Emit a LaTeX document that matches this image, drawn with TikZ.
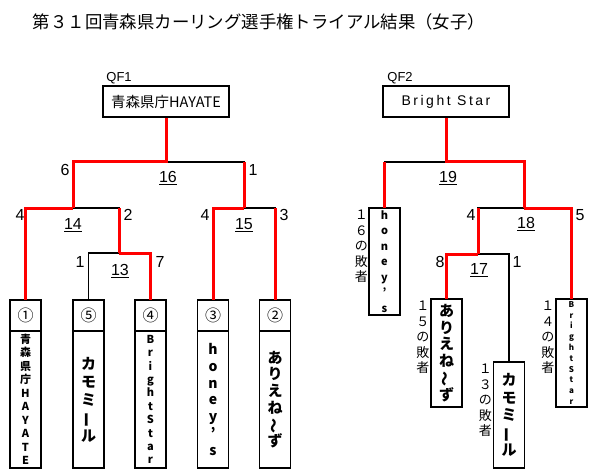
\documentclass[tikz,border=0pt]{standalone}
\usepackage{fontspec}
\setmainfont{Liberation Sans}
\newfontfamily\jp{Noto Sans CJK JP}
\usetikzlibrary{positioning}
\newcommand{\chouon}{\rotatebox[origin=c]{90}{ー}}
\newcommand{\namisen}{\rotatebox[origin=c]{90}{〜}}
\tikzset{win/.style={draw=red, line width=3pt},
         lose/.style={draw=black, line width=1.2pt},
         teambox/.style={draw, line width=1.6pt, minimum width=31pt, inner sep=0pt, outer sep=0pt, align=center},
         numcell/.style={teambox, minimum height=31pt, font=\jp\fontsize{16}{16}\selectfont},
         qfbox/.style={draw, line width=1.6pt, minimum width=126pt, minimum height=31pt, inner sep=0pt},
         score/.style={inner sep=0pt, font=\fontsize{16}{16}\selectfont},
         loser/.style={inner sep=0pt, align=center, font=\jp\fontsize{13}{15.5}\selectfont}}

\begin{document}
\begin{tikzpicture}[x=1pt, y=-1pt]
                    \useasboundingbox (0,0) rectangle (600,476);
                    \fill[white] (0,0) rectangle (600,476);

                    \node[inner sep=0pt, font=\jp\fontsize{17.4}{17.4}\selectfont] (title) at (259,22) {第３１回青森県カーリング選手権トライアル結果（女子）};

                    % QF1
                    \node[qfbox, font=\jp\fontsize{14.5}{14.5}\selectfont] (qf1) at (166,101.5) {青森県庁HAYATE};
                    \node[inner sep=0pt, font=\fontsize{13}{13}\selectfont, above right=1pt and 4pt of qf1.north west] (qf1name) {QF1};

                    \node[numcell] (n1) at (25.5,315.5) {①};
                    \node[numcell] (n5) at (88.5,315.5) {⑤};
                    \node[numcell] (n4) at (150.5,315.5) {④};
                    \node[numcell] (n3) at (213,315.5) {③};
                    \node[numcell] (n2) at (275,315.5) {②};

                    \node[teambox, minimum height=137pt, anchor=north, font=\jp\bfseries\fontsize{11}{13.5}\selectfont] (t1) at (n1.south) {青\\森\\県\\庁\\H\\A\\Y\\A\\T\\E};
                    \node[teambox, minimum height=137pt, anchor=north, font=\jp\bfseries\fontsize{15}{18}\selectfont] (t5) at (n5.south) {カ\\モ\\ミ\\\chouon\\ル};
                    \node[teambox, minimum height=137pt, anchor=north, font=\jp\bfseries\fontsize{11}{13.4}\selectfont] (t4) at (n4.south) {B\\r\\i\\g\\h\\t\\S\\t\\a\\r};
                    \node[teambox, minimum height=137pt, anchor=north, font=\jp\bfseries\fontsize{14}{16.7}\selectfont] (t3) at (n3.south) {h\\o\\n\\e\\y\\’\\s};
                    \node[teambox, minimum height=137pt, anchor=north, font=\jp\bfseries\fontsize{15}{16.6}\selectfont] (t2) at (n2.south) {あ\\り\\え\\ね\\\namisen\\ず};

                    \coordinate (j16) at (166,162);
                    \coordinate (j14) at (73,208);
                    \coordinate (j15) at (244,208);
                    \coordinate (j13) at (119,253);

                    \draw[lose] (j16) -| (j15);
                    \draw[lose] (j14) -| (j13);
                    \draw[lose] (j13) -| (n5.north);
                    \draw[lose] (j15) -| (n2.north);

                    \draw[win] (qf1.south) -- (j16) -| (j14);
                    \draw[win] (j16 -| j15) -- (j15);
                    \draw[win] (j14) -| (n1.north);
                    \draw[win] (j14 -| j13) -- (j13);
                    \draw[win] (j13) -| (n4.north);
                    \draw[win] (j15) -| (n3.north);
                    \draw[win] (j15 -| n2.north) -- (n2.north);

                    \node[score] (s16l) at (65,170) {6};
                    \node[score] (s16r) at (253,170) {1};
                    \node[score] (g16) at (168,178) {\underline{16}};
                    \node[score] (s14l) at (20,215) {4};
                    \node[score] (s14r) at (128,215) {2};
                    \node[score] (g14) at (73,225) {\underline{14}};
                    \node[score] (s13l) at (80,262) {1};
                    \node[score] (s13r) at (160,262) {7};
                    \node[score] (g13) at (120,271) {\underline{13}};
                    \node[score] (s15l) at (205,215) {4};
                    \node[score] (s15r) at (284,215) {3};
                    \node[score] (g15) at (244,225) {\underline{15}};

                    % QF2
                    \node[qfbox, font=\fontsize{14}{14}\selectfont\addfontfeature{LetterSpace=18}] (qf2) at (446,101.5) {Bright Star};
                    \node[inner sep=0pt, font=\fontsize{13}{13}\selectfont, above right=1pt and 5pt of qf2.north west] (qf2name) {QF2};

                    \node[teambox, minimum height=107pt, font=\jp\bfseries\fontsize{11}{15.5}\selectfont] (hon) at (384.5,261.5) {h\\o\\n\\e\\y\\’\\s};
                    \node[teambox, minimum height=108pt, font=\jp\bfseries\fontsize{15}{16.8}\selectfont] (ari) at (446.5,353) {あ\\り\\え\\ね\\\namisen\\ず};
                    \node[teambox, minimum height=106pt, font=\jp\bfseries\fontsize{15}{17.5}\selectfont] (kam) at (509,415) {カ\\モ\\ミ\\\chouon\\ル};
                    \node[teambox, minimum height=108pt, font=\jp\bfseries\fontsize{8}{10.8}\selectfont] (bs) at (571.5,353) {B\\r\\i\\g\\h\\t\\S\\t\\a\\r};

                    \node[loser, below left=2pt and 1pt of hon.north west] (l16) {１\\６\\の\\敗\\者};
                    \node[loser, below left=2pt and 1.5pt of ari.north west] (l15) {１\\５\\の\\敗\\者};
                    \node[loser, below left=2pt and 1.5pt of kam.north west] (l13) {１\\３\\の\\敗\\者};
                    \node[loser, below left=2pt and 1.5pt of bs.north west] (l14) {１\\４\\の\\敗\\者};

                    \coordinate (j19) at (446,162);
                    \coordinate (j18) at (524,208);
                    \coordinate (j17) at (478,254);

                    \draw[lose] (j19) -| (hon.north);
                    \draw[lose] (j18) -| (j17);
                    \draw[lose] (j17) -| (kam.north);

                    \draw[win] (j19 -| hon.north) -- (hon.north);
                    \draw[win] (qf2.south) -- (j19) -| (j18);
                    \draw[win] (j18 -| j17) -- (j17);
                    \draw[win] (j18) -| (bs.north);
                    \draw[win] (j17) -| (ari.north);

                    \node[score] (g19) at (448,178) {\underline{19}};
                    \node[score] (s18l) at (471,215) {4};
                    \node[score] (s18r) at (580,215) {5};
                    \node[score] (g18) at (526,224) {\underline{18}};
                    \node[score] (s17l) at (440,262) {8};
                    \node[score] (s17r) at (517,262) {1};
                    \node[score] (g17) at (479,270) {\underline{17}};

                 \end{tikzpicture}
\end{document}
